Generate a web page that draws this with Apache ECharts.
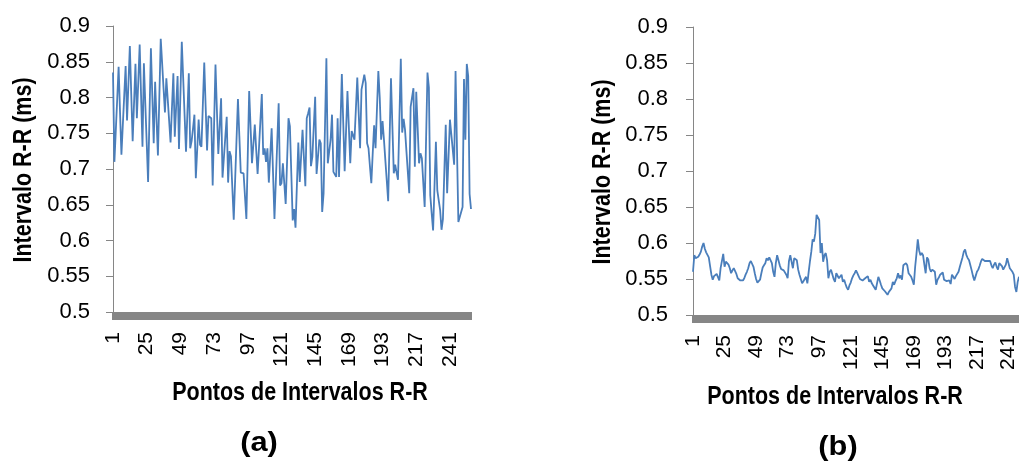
<!DOCTYPE html>
<html>
<head>
<meta charset="utf-8">
<script src="https://cdn.jsdelivr.net/npm/echarts@6/dist/echarts.min.js"></script>
<style>
  html, body { margin: 0; padding: 0; background: #fff; }
  #canvas_main { width: 1019px; height: 461px; }
</style>
</head>
<body>
<div id="canvas_main"></div>
<script>
// (a) intervalos R-R, 256 pontos
var rrA = [
  0.835, 0.71, 0.754, 0.798, 0.843, 0.78, 0.72, 0.762, 0.803, 0.844,
  0.768, 0.82, 0.872, 0.805, 0.739, 0.793, 0.847, 0.771, 0.822, 0.874,
  0.802, 0.731, 0.848, 0.792, 0.737, 0.682, 0.776, 0.869, 0.802, 0.736,
  0.822, 0.770, 0.719, 0.80, 0.882, 0.848, 0.813, 0.779, 0.827, 0.797,
  0.767, 0.737, 0.786, 0.834, 0.745, 0.788, 0.83, 0.728, 0.803, 0.878,
  0.827, 0.775, 0.724, 0.779, 0.834, 0.729, 0.739, 0.757, 0.776, 0.687,
  0.728, 0.769, 0.734, 0.731, 0.79, 0.849, 0.787, 0.726, 0.774, 0.772,
  0.771, 0.677, 0.762, 0.846, 0.783, 0.721, 0.76, 0.799, 0.688, 0.716,
  0.745, 0.773, 0.681, 0.725, 0.718, 0.674, 0.629, 0.685, 0.742, 0.798,
  0.746, 0.695, 0.695, 0.694, 0.662, 0.63, 0.72, 0.809, 0.807, 0.708,
  0.735, 0.762, 0.727, 0.693, 0.73, 0.768, 0.805, 0.72, 0.729, 0.71,
  0.729, 0.681, 0.719, 0.757, 0.694, 0.63, 0.684, 0.738, 0.792, 0.677,
  0.68, 0.708, 0.68, 0.651, 0.711, 0.771, 0.76, 0.694, 0.628, 0.644,
  0.618, 0.678, 0.737, 0.682, 0.718, 0.755, 0.756, 0.676, 0.771, 0.778,
  0.786, 0.704, 0.717, 0.759, 0.801, 0.693, 0.694, 0.741, 0.736, 0.64,
  0.666, 0.76, 0.855, 0.708, 0.706, 0.741, 0.776, 0.696, 0.694, 0.689,
  0.771, 0.689, 0.761, 0.833, 0.765, 0.697, 0.753, 0.809, 0.758, 0.708,
  0.753, 0.747, 0.741, 0.784, 0.828, 0.826, 0.729, 0.811, 0.821, 0.832,
  0.82, 0.736, 0.729, 0.704, 0.68, 0.722, 0.761, 0.729, 0.783, 0.837,
  0.80, 0.741, 0.767, 0.741, 0.712, 0.684, 0.655, 0.741, 0.827, 0.76,
  0.694, 0.706, 0.695, 0.685, 0.77, 0.854, 0.751, 0.77, 0.755, 0.725,
  0.696, 0.666, 0.787, 0.80, 0.813, 0.703, 0.808, 0.758, 0.708, 0.722,
  0.715, 0.681, 0.647, 0.741, 0.835, 0.814, 0.663, 0.638, 0.614, 0.676,
  0.738, 0.67, 0.671, 0.643, 0.615, 0.63, 0.696, 0.762, 0.666, 0.717,
  0.769, 0.748, 0.727, 0.706, 0.837, 0.73, 0.626, 0.633, 0.64, 0.647,
  0.826, 0.741, 0.847, 0.83, 0.665, 0.644
];

// (b) intervalos R-R, parte visível (249 pontos)
var rrB = [
  0.56, 0.583, 0.579, 0.58, 0.581, 0.584, 0.588, 0.595, 0.6, 0.592,
  0.587, 0.586, 0.58, 0.568, 0.556, 0.549, 0.554, 0.553, 0.557, 0.556,
  0.548, 0.565, 0.567, 0.585, 0.567, 0.574, 0.573, 0.57, 0.565, 0.558,
  0.562, 0.565, 0.564, 0.557, 0.551, 0.549, 0.548, 0.547, 0.548, 0.551,
  0.556, 0.56, 0.565, 0.572, 0.575, 0.576, 0.567, 0.558, 0.55, 0.545,
  0.546, 0.549, 0.558, 0.566, 0.569, 0.572, 0.579, 0.576, 0.58, 0.578,
  0.572, 0.56, 0.553, 0.572, 0.583, 0.583, 0.569, 0.564, 0.562, 0.562,
  0.563, 0.556, 0.551, 0.575, 0.583, 0.581, 0.565, 0.579, 0.577, 0.576,
  0.563, 0.556, 0.55, 0.544, 0.547, 0.549, 0.553, 0.544, 0.56, 0.575,
  0.588, 0.605, 0.602, 0.613, 0.639, 0.637, 0.632, 0.586, 0.6, 0.574,
  0.583, 0.586, 0.576, 0.551, 0.56, 0.563, 0.563, 0.55, 0.546, 0.558,
  0.556, 0.551, 0.553, 0.556, 0.546, 0.549, 0.543, 0.538, 0.535, 0.541,
  0.545, 0.551, 0.555, 0.558, 0.562, 0.558, 0.554, 0.55, 0.549, 0.548,
  0.55, 0.551, 0.553, 0.554, 0.546, 0.549, 0.544, 0.541, 0.539, 0.535,
  0.544, 0.553, 0.548, 0.542, 0.537, 0.535, 0.533, 0.532, 0.528, 0.532,
  0.534, 0.537, 0.546, 0.542, 0.547, 0.551, 0.558, 0.551, 0.555, 0.549,
  0.569, 0.57, 0.572, 0.569, 0.558, 0.56, 0.553, 0.548, 0.542, 0.567,
  0.585, 0.605, 0.59, 0.583, 0.586, 0.583, 0.57, 0.558, 0.58, 0.577,
  0.565, 0.56, 0.563, 0.562, 0.56, 0.542, 0.549, 0.552, 0.556, 0.558,
  0.559, 0.549, 0.55, 0.547, 0.546, 0.548, 0.543, 0.556, 0.553, 0.55,
  0.554, 0.552, 0.56, 0.567, 0.569, 0.58, 0.588, 0.591, 0.583, 0.579,
  0.576, 0.569, 0.562, 0.554, 0.548, 0.554, 0.56, 0.563, 0.568, 0.574,
  0.578, 0.58, 0.575, 0.577, 0.575, 0.574, 0.575, 0.569, 0.565, 0.57,
  0.573, 0.567, 0.563, 0.572, 0.572, 0.568, 0.563, 0.562, 0.57, 0.579,
  0.579, 0.565, 0.563, 0.56, 0.556, 0.539, 0.532, 0.546, 0.553
];

var yMin = 0.5, yMax = 0.9, yStep = 0.05;
var yTitle = 'Intervalo R-R (ms)';
var xTitle = 'Pontos de Intervalos R-R';

function pontos(n) {
  var arr = [];
  for (var i = 1; i <= n; i++) arr.push(String(i));
  return arr;
}
var catA = pontos(rrA.length);
var catB = pontos(rrB.length);

var axisGray = '#868686';
var lineBlue = '#4a7ebb';
var tickFont = 'Liberation Sans, Arial, sans-serif';
var titleFont = 'bold 25px "Liberation Sans", Arial, sans-serif';
var letraFont = 'bold 28px "Liberation Sans", Arial, sans-serif';

function xAxisCfg(idx, cats) {
  return {
    type: 'category', gridIndex: idx, data: cats, boundaryGap: false,
    axisLine: { show: true, lineStyle: { color: axisGray, width: 1 } },
    axisTick: { show: true, interval: 0, length: 8, lineStyle: { color: axisGray, width: 2 } },
    axisLabel: { interval: 23, rotate: 90, margin: 20, color: '#000', fontSize: 21, fontFamily: tickFont },
    splitLine: { show: false }
  };
}
function yAxisCfg(idx, margin) {
  return {
    type: 'value', gridIndex: idx, min: yMin, max: yMax, interval: yStep,
    axisLine: { show: true, lineStyle: { color: axisGray, width: 1 } },
    axisTick: { show: true, length: 7, lineStyle: { color: axisGray } },
    axisLabel: { margin: margin, color: '#000', fontSize: 22, fontFamily: tickFont },
    splitLine: { show: false }
  };
}
// texto com compressão horizontal (fonte condensada do original)
function titulo(text, x, y, rot, sx, font) {
  return {
    type: 'text', x: x, y: y, rotation: rot, scaleX: sx,
    style: { text: text, x: 0, y: 0, font: font || titleFont, fill: '#000', align: 'center', verticalAlign: 'middle' }
  };
}

var myChart = echarts.init(document.getElementById('canvas_main'));
var option = {
  animation: false,
  backgroundColor: '#fff',
  grid: [
    { left: 113, top: 26, width: 358, height: 286 },
    { left: 693, top: 27, right: 0, height: 288 }
  ],
  xAxis: [xAxisCfg(0, catA), xAxisCfg(1, catB)],
  yAxis: [yAxisCfg(0, 23), yAxisCfg(1, 25)],
  series: [
    { type: 'line', xAxisIndex: 0, yAxisIndex: 0, data: rrA, showSymbol: false,
      lineStyle: { color: lineBlue, width: 1.8 } },
    { type: 'line', xAxisIndex: 1, yAxisIndex: 1, data: rrB, showSymbol: false,
      lineStyle: { color: lineBlue, width: 1.8 } }
  ],
  graphic: [
    titulo(yTitle, 24, 170, Math.PI / 2, 0.86),
    titulo(xTitle, 300, 393, 0, 0.86),
    titulo('(a)', 259, 443, 0, 1.1, letraFont),
    titulo(yTitle, 603, 172, Math.PI / 2, 0.86),
    titulo(xTitle, 835, 397, 0, 0.86),
    titulo('(b)', 838, 447, 0, 1.1, letraFont)
  ]
};
myChart.setOption(option);
</script>
</body>
</html>
